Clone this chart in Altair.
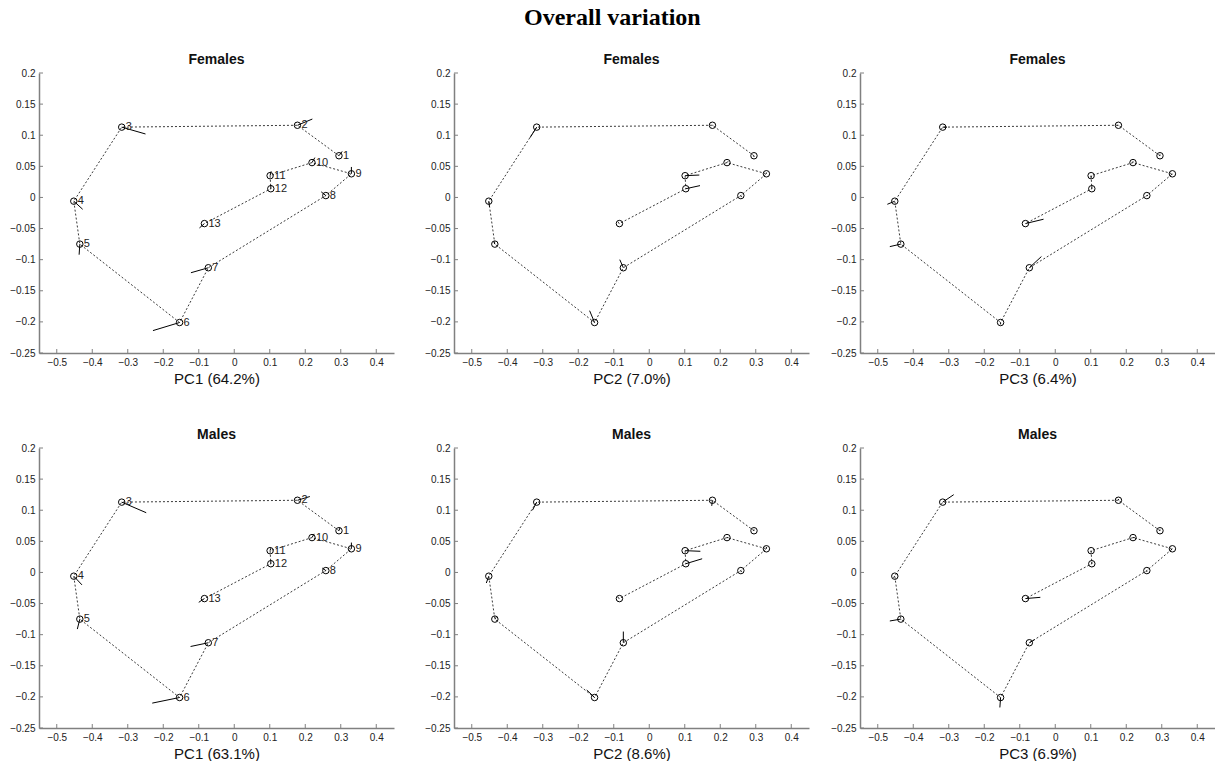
import altair as alt
import pandas as pd

# Landmark numbers and mean configuration
landmark = list(range(1, 14))
mean_x = [0.295, 0.178, -0.317, -0.452, -0.435, -0.154, -0.073, 0.258, 0.330, 0.219, 0.101, 0.103, -0.084]
mean_y = [0.067, 0.116, 0.113, -0.006, -0.075, -0.201, -0.113, 0.003, 0.038, 0.056, 0.035, 0.014, -0.042]

# Shape-change vectors for each principal component (landmarks 1..13)
f_pc1_dx = [0.009, 0.042, 0.067, 0.025, -0.002, -0.075, -0.049, -0.013, 0.000, 0.008, 0.003, 0.000, -0.014]
f_pc1_dy = [0.007, 0.010, -0.011, -0.013, -0.017, -0.013, -0.008, 0.006, 0.011, 0.008, 0.007, 0.006, -0.007]
m_pc1_dx = [0.003, 0.035, 0.069, 0.023, -0.007, -0.077, -0.050, -0.010, 0.000, 0.006, 0.002, 0.000, -0.016]
m_pc1_dy = [0.005, 0.006, -0.017, -0.014, -0.016, -0.009, -0.006, 0.004, 0.010, 0.006, 0.004, 0.005, -0.006]

f_pc2_dx = [0.000, 0.002, -0.019, 0.002, -0.003, -0.014, -0.010, 0.002, 0.000, 0.003, 0.040, 0.040, -0.004]
f_pc2_dy = [-0.002, 0.000, -0.017, -0.009, 0.004, 0.019, 0.013, -0.002, 0.002, 0.002, 0.001, 0.005, 0.002]
m_pc2_dx = [0.000, -0.002, -0.012, -0.007, 0.004, -0.022, 0.000, 0.002, 0.000, 0.004, 0.043, 0.046, -0.005]
m_pc2_dy = [0.002, -0.009, -0.013, -0.011, 0.003, 0.012, 0.018, -0.002, 0.003, 0.000, -0.001, 0.008, 0.002]

f_pc3_dx = [0.000, -0.003, 0.012, -0.021, -0.031, 0.000, 0.034, 0.003, -0.003, 0.000, 0.000, 0.000, 0.051]
f_pc3_dy = [0.002, 0.000, 0.000, -0.005, -0.004, -0.003, 0.018, 0.000, -0.002, 0.002, -0.003, 0.004, 0.007]
m_pc3_dx = [0.000, 0.000, 0.031, -0.004, -0.031, -0.002, 0.015, 0.000, -0.004, 0.005, 0.000, 0.000, 0.042]
m_pc3_dy = [0.002, 0.002, 0.012, -0.002, -0.003, -0.016, 0.005, -0.002, -0.002, 0.000, -0.002, 0.003, 0.002]

# Axis tick values
x_ticks = [-0.5, -0.4, -0.3, -0.2, -0.1, 0.0, 0.1, 0.2, 0.3, 0.4]
y_ticks = [0.2, 0.15, 0.1, 0.05, 0.0, -0.05, -0.1, -0.15, -0.2, -0.25]

W, H = 355, 280
TICK = 4

x_scale = alt.Scale(domain=[-0.55, 0.45], nice=False, zero=False)
y_scale = alt.Scale(domain=[-0.25, 0.2], nice=False, zero=False)

AXIS_STYLE = dict(
    grid=False,
    ticks=False,
    domainColor="#808080",
    domainWidth=1.5,
    labelFont="Liberation Sans",
    labelFontSize=10,
    labelColor="#222222",
    labelPadding=4,
    titleFont="Liberation Sans",
    titleFontSize=15,
    titleFontWeight="normal",
    titleColor="#111111",
    titlePadding=4,
)


def panel(group, axis_title, dx, dy, numbered):
    df = pd.DataFrame({
        "landmark": landmark,
        "x": mean_x,
        "y": mean_y,
        "xe": [a + b for a, b in zip(mean_x, dx)],
        "ye": [a + b for a, b in zip(mean_y, dy)],
    })
    x_axis = alt.Axis(values=x_ticks, format=".1~f", title=axis_title, **AXIS_STYLE)
    y_axis = alt.Axis(values=y_ticks, format=".2~f", title=None, **AXIS_STYLE)
    x_enc = alt.X("x:Q", scale=x_scale, axis=x_axis)
    y_enc = alt.Y("y:Q", scale=y_scale, axis=y_axis)

    base = alt.Chart(df)
    outline = base.mark_line(strokeDash=[2, 2], color="#3a3a3a", strokeWidth=1).encode(
        x=x_enc, y=y_enc, order="landmark:Q")
    vectors = base.mark_rule(color="black", strokeWidth=1).encode(
        x=x_enc, y=y_enc, x2="xe:Q", y2="ye:Q")
    points = base.mark_point(shape="circle", size=42, color="black",
                             strokeWidth=1, filled=False, opacity=1).encode(x=x_enc, y=y_enc)

    # inward-pointing tick marks along both axes
    ytick = alt.Chart(pd.DataFrame({"y": y_ticks})).mark_rule(color="#808080").encode(
        y=y_enc, x=alt.value(0), x2=alt.value(TICK))
    xtick = alt.Chart(pd.DataFrame({"x": x_ticks})).mark_rule(color="#808080").encode(
        x=x_enc, y=alt.value(H), y2=alt.value(H - TICK))

    layers = [outline, vectors, points, ytick, xtick]
    if numbered:
        labels = base.mark_text(align="left", baseline="middle", dx=4, fontSize=11,
                                color="#222222").encode(x=x_enc, y=y_enc, text="landmark:N")
        layers.append(labels)
    return alt.layer(*layers).properties(
        width=W, height=H,
        title=alt.TitleParams(group, font="Liberation Sans", fontSize=14,
                              fontWeight="bold", color="#111111", offset=1),
    )


specs = [
    ("Females", "PC1 (64.2%)", f_pc1_dx, f_pc1_dy, True),
    ("Females", "PC2 (7.0%)", f_pc2_dx, f_pc2_dy, False),
    ("Females", "PC3 (6.4%)", f_pc3_dx, f_pc3_dy, False),
    ("Males", "PC1 (63.1%)", m_pc1_dx, m_pc1_dy, True),
    ("Males", "PC2 (8.6%)", m_pc2_dx, m_pc2_dy, False),
    ("Males", "PC3 (6.9%)", m_pc3_dx, m_pc3_dy, False),
]
charts = [panel(*s) for s in specs]

ROW_GAP = 42


def column(i):
    return alt.vconcat(charts[i], charts[i + 3], spacing=ROW_GAP)


chart = alt.hconcat(
    column(0),
    alt.hconcat(column(1), column(2), spacing=21),
    spacing=30,
).properties(
    title=alt.TitleParams("Overall variation", font="Liberation Serif", fontSize=24,
                          fontWeight="bold", anchor="middle", offset=23, color="black"),
    padding={"left": 9, "top": 6, "right": 0, "bottom": 0},
    background="white",
).configure_view(
    strokeWidth=0
)

chart.save("out.html", embed_options={"renderer": "svg", "actions": False})
